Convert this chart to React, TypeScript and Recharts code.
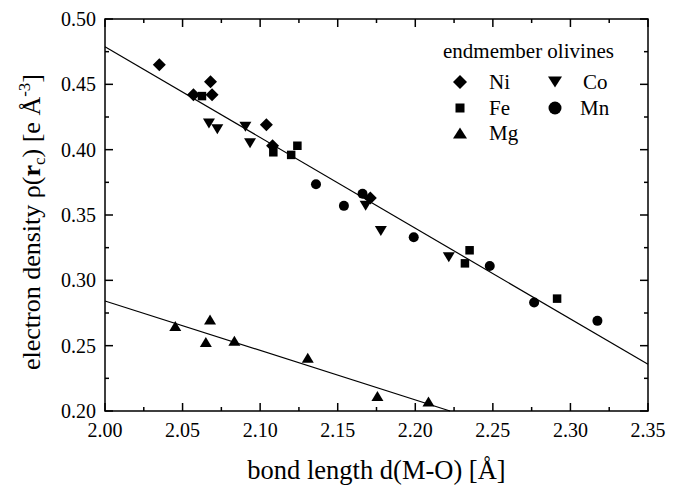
import React from 'react';
import { ScatterChart, Scatter, XAxis, YAxis, ReferenceArea, ReferenceLine } from 'recharts';

const niData = [
  { x: 2.035, y: 0.465 }, { x: 2.057, y: 0.442 }, { x: 2.068, y: 0.452 }, { x: 2.069, y: 0.442 },
  { x: 2.104, y: 0.419 }, { x: 2.108, y: 0.403 }, { x: 2.171, y: 0.363 },
];
const feData = [
  { x: 2.0625, y: 0.441 }, { x: 2.1085, y: 0.398 }, { x: 2.12, y: 0.396 }, { x: 2.124, y: 0.403 },
  { x: 2.232, y: 0.313 }, { x: 2.235, y: 0.323 }, { x: 2.2914, y: 0.286 },
];
const coData = [
  { x: 2.067, y: 0.42 }, { x: 2.0724, y: 0.4156 }, { x: 2.0905, y: 0.4176 }, { x: 2.0935, y: 0.405 },
  { x: 2.168, y: 0.357 }, { x: 2.1778, y: 0.3378 }, { x: 2.2216, y: 0.3176 },
];
const mnData = [
  { x: 2.136, y: 0.3735 }, { x: 2.154, y: 0.357 }, { x: 2.166, y: 0.3663 }, { x: 2.199, y: 0.333 },
  { x: 2.248, y: 0.311 }, { x: 2.2766, y: 0.283 }, { x: 2.3174, y: 0.269 },
];
const mgData = [
  { x: 2.0453, y: 0.265 }, { x: 2.065, y: 0.2528 }, { x: 2.0677, y: 0.27 }, { x: 2.0834, y: 0.2538 },
  { x: 2.1307, y: 0.2408 }, { x: 2.1756, y: 0.2115 }, { x: 2.2085, y: 0.2073 },
];
const fitUpper = [{ x: 2.0, y: 0.4788 }, { x: 2.35, y: 0.2357 }];
const fitLower = [{ x: 2.0, y: 0.2842 }, { x: 2.2224, y: 0.2 }];

const xTicks = [2.0, 2.025, 2.05, 2.075, 2.1, 2.125, 2.15, 2.175, 2.2, 2.225, 2.25, 2.275, 2.3, 2.325, 2.35];
const yTicks = [0.2, 0.225, 0.25, 0.275, 0.3, 0.325, 0.35, 0.375, 0.4, 0.425, 0.45, 0.475, 0.5];

const W = 675, H = 485;
const PL = 105, PR = 648, PT = 19, PB = 411;
const FONT = "'Liberation Serif', 'Times New Roman', Times, serif";

const isMajor = (v: number) => Math.abs(v * 20 - Math.round(v * 20)) < 1e-6;

const XTick = (props: any) => {
  const { x, payload } = props;
  const v = payload.value;
  const major = isMajor(v);
  const len = major ? 8 : 4;
  return (
    <g>
      <line x1={x} y1={PB} x2={x} y2={PB - len} stroke="#000" strokeWidth={1.5} />
      <line x1={x} y1={PT} x2={x} y2={PT + len} stroke="#000" strokeWidth={1.5} />
      {major && (
        <text x={x} y={437} textAnchor="middle" fontFamily={FONT} fontSize={20} fill="#000">
          {v.toFixed(2)}
        </text>
      )}
    </g>
  );
};

const YTick = (props: any) => {
  const { y, payload } = props;
  const v = payload.value;
  const major = isMajor(v);
  const len = major ? 8 : 4;
  return (
    <g>
      <line x1={PL} y1={y} x2={PL + len} y2={y} stroke="#000" strokeWidth={1.5} />
      <line x1={PR} y1={y} x2={PR - len} y2={y} stroke="#000" strokeWidth={1.5} />
      {major && (
        <text x={96} y={y + 7} textAnchor="end" fontFamily={FONT} fontSize={20} fill="#000">
          {v.toFixed(2)}
        </text>
      )}
    </g>
  );
};

const Diamond = ({ cx, cy, r = 6.5 }: any) => (
  <polygon points={`${cx},${cy - r} ${cx + r},${cy} ${cx},${cy + r} ${cx - r},${cy}`} fill="#000" />
);
const Square = ({ cx, cy, s = 8.5 }: any) => (
  <rect x={cx - s / 2} y={cy - s / 2} width={s} height={s} fill="#000" />
);
const UpTri = ({ cx, cy, w = 12, h = 10 }: any) => (
  <polygon points={`${cx},${cy - h / 2} ${cx + w / 2},${cy + h / 2} ${cx - w / 2},${cy + h / 2}`} fill="#000" />
);
const DownTri = ({ cx, cy, w = 12, h = 10 }: any) => (
  <polygon points={`${cx - w / 2},${cy - h / 2} ${cx + w / 2},${cy - h / 2} ${cx},${cy + h / 2}`} fill="#000" />
);
const Dot = ({ cx, cy, r = 5 }: any) => <circle cx={cx} cy={cy} r={r} fill="#000" />;

export default function App() {
  return (
    <div style={{ position: 'absolute', left: 0, top: 0, width: W, height: H, background: '#fff' }}>
      <ScatterChart width={W} height={H} margin={{ top: PT, right: W - PR, bottom: 0, left: 0 }}>
        <XAxis
          type="number"
          dataKey="x"
          domain={[2.0, 2.35]}
          ticks={xTicks}
          interval={0}
          tickLine={false}
          axisLine={false}
          height={H - PB}
          tick={<XTick />}
          allowDataOverflow
        />
        <YAxis
          type="number"
          dataKey="y"
          domain={[0.2, 0.5]}
          ticks={yTicks}
          interval={0}
          tickLine={false}
          axisLine={false}
          width={PL}
          tick={<YTick />}
          allowDataOverflow
        />
        <ReferenceArea x1={2.0} x2={2.35} y1={0.2} y2={0.5} fill="none" stroke="#000" strokeWidth={1.5} fillOpacity={0} />
        <ReferenceLine segment={fitUpper} stroke="#000" strokeWidth={1.2} />
        <ReferenceLine segment={fitLower} stroke="#000" strokeWidth={1.2} />
        <Scatter data={niData} shape={(p: any) => <Diamond cx={p.cx} cy={p.cy} />} isAnimationActive={false} />
        <Scatter data={feData} shape={(p: any) => <Square cx={p.cx} cy={p.cy} />} isAnimationActive={false} />
        <Scatter data={coData} shape={(p: any) => <DownTri cx={p.cx} cy={p.cy} />} isAnimationActive={false} />
        <Scatter data={mnData} shape={(p: any) => <Dot cx={p.cx} cy={p.cy} />} isAnimationActive={false} />
        <Scatter data={mgData} shape={(p: any) => <UpTri cx={p.cx} cy={p.cy} />} isAnimationActive={false} />
      </ScatterChart>
      <svg width={W} height={H} style={{ position: 'absolute', left: 0, top: 0, pointerEvents: 'none' }}>
        <g fontFamily={FONT} fill="#000">
          <text x={443} y={58} fontSize={21}>endmember olivines</text>
          <Diamond cx={460} cy={82} r={7} />
          <text x={489} y={89} fontSize={21}>Ni</text>
          <Square cx={460} cy={108} s={9} />
          <text x={489} y={115} fontSize={21}>Fe</text>
          <UpTri cx={460} cy={133} w={14} h={11} />
          <text x={489} y={140} fontSize={21}>Mg</text>
          <DownTri cx={555} cy={82} w={14} h={11} />
          <text x={583} y={89} fontSize={21}>Co</text>
          <Dot cx={555} cy={108} r={6.5} />
          <text x={580} y={115} fontSize={21}>Mn</text>
          <text x={(PL + PR) / 2} y={479} textAnchor="middle" fontSize={26.5}>bond length d(M-O) [Å]</text>
          <text transform={`translate(40, 222) rotate(-90)`} textAnchor="middle" fontSize={26}>
            <tspan>electron density  ρ(</tspan>
            <tspan fontWeight="bold">r</tspan>
            <tspan fontSize={17} dy={5}>c</tspan>
            <tspan dy={-5}>) [e Å</tspan>
            <tspan fontSize={17} dy={-10}>-3</tspan>
            <tspan dy={10}>]</tspan>
          </text>
        </g>
      </svg>
    </div>
  );
}
